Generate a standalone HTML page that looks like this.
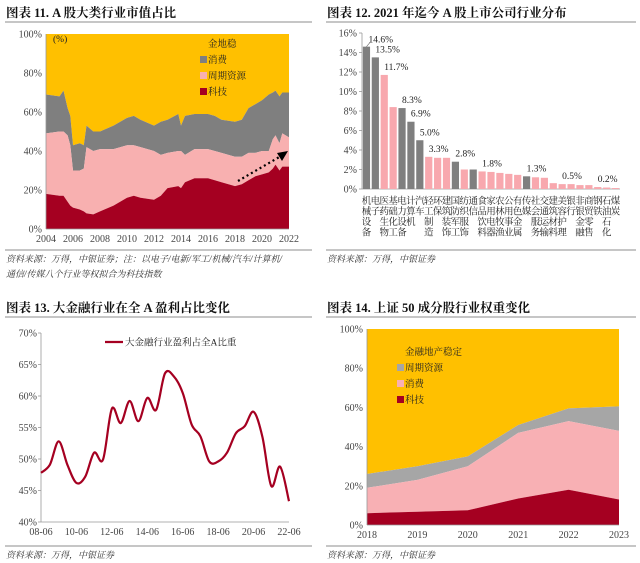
<!DOCTYPE html>
<html><head><meta charset="utf-8"><style>
body{margin:0;background:#fff;}
svg{display:block;font-family:"Liberation Serif","Noto Serif CJK SC",serif;}
.t{font-weight:bold;font-size:12.5px;fill:#111;}
.src{font-style:italic;font-size:9px;fill:#333;}
.tk{font-size:10px;fill:#444;}
.lg{font-size:9.5px;fill:#222;}
</style></head><body>
<svg id="s" width="640" height="563" viewBox="0 0 640 563" xmlns="http://www.w3.org/2000/svg">
<g>
<text class="t" x="6" y="17">图表 11. A 股大类行业市值占比</text>
<line x1="5" y1="22" x2="312" y2="22" stroke="#666" stroke-width="0.8"/>
<line x1="5" y1="250" x2="312" y2="250" stroke="#666" stroke-width="0.8"/>
<text class="src" x="6" y="262">资料来源：万得，中银证券；注：以电子/电新/军工/机械/汽车/计算机/</text>
<text class="src" x="6" y="277">通信/传媒八个行业等权拟合为科技指数</text>
</g>
<g>
<text class="t" x="327" y="17">图表 12. 2021 年迄今 A 股上市公司行业分布</text>
<line x1="326" y1="22" x2="636" y2="22" stroke="#666" stroke-width="0.8"/>
<line x1="326" y1="250" x2="636" y2="250" stroke="#666" stroke-width="0.8"/>
<text class="src" x="327" y="262">资料来源：万得，中银证券</text>
</g>
<g>
<text class="t" x="6" y="312">图表 13. 大金融行业在全 A 盈利占比变化</text>
<line x1="5" y1="317" x2="312" y2="317" stroke="#666" stroke-width="0.8"/>
<line x1="5" y1="546" x2="312" y2="546" stroke="#666" stroke-width="0.8"/>
<text class="src" x="6" y="558">资料来源：万得，中银证券</text>
</g>
<g>
<text class="t" x="327" y="312">图表 14. 上证 50 成分股行业权重变化</text>
<line x1="326" y1="317" x2="636" y2="317" stroke="#666" stroke-width="0.8"/>
<line x1="326" y1="546" x2="636" y2="546" stroke="#666" stroke-width="0.8"/>
<text class="src" x="327" y="558">资料来源：万得，中银证券</text>
</g>
<g id="c11"></g>
<g id="c12"></g>
<g id="c13"></g>
<g id="c14"></g>
</svg>
<script>
// ---- Chart 11 data
const c11Years=[2004,2005,2005.3,2005.6,2005.8,2006,2006.5,2006.8,2007,2007.5,2008,2009,2010,2010.5,2011,2012,2012.5,2013,2013.8,2014,2014.3,2015,2016,2016.5,2017,2018,2018.5,2019,2019.5,2020,2020.5,2020.8,2021,2021.3,2021.5,2022];
const c11Tech=[18,17,17,14,12,11,10,9,8,7.5,9,12,16,17,16,15,17,21,22,21,24,26,26,25,24,22,23,25,27,28,29,31,33,30,32,32];
const c11CycTop=[49,50,50,48,43,30,30,31,42,40,41,41,43,43,42,40,38,39,40,40,38,41,41,40,39,37,37,39,39,40,40,46,48,44,49,47];
const c11ConsTop=[69,68,71,62,58,43,44,43,53,50,50,53,57,58,56,53,55,56,59,53,58,59,59,58,56,55,56,62,64,66,69,70,71,68,70,70];
const c11XTicks=[2004,2006,2008,2010,2012,2014,2016,2018,2020,2022];
const c11YTicks=[0,20,40,60,80,100];
// ---- Chart 12 data
const c12Cats=["机械设备","电子","医药生物","基础化工","电力设备","计算机","汽车","轻工制造","环保","建筑装饰","国防军工","纺织服饰","通信","食品饮料","家用电器","农林牧渔","公用事业","有色金属","传媒","社会服务","交通运输","建筑材料","美容护理","银行","非银金融","商贸零售","钢铁","石油石化","煤炭"];
const c12Vals=[14.6,13.5,11.7,8.4,8.3,6.9,5.0,3.3,3.2,3.2,2.8,2.0,2.0,1.8,1.75,1.65,1.55,1.45,1.3,1.2,1.15,0.6,0.5,0.5,0.4,0.4,0.2,0.15,0.1];
const c12Gray=[1,1,0,0,1,1,1,0,0,0,1,0,1,0,0,0,0,0,1,0,0,0,0,0,0,0,0,0,0];
const c12Labels=["14.6%","13.5%","11.7%","","8.3%","6.9%","5.0%","3.3%","","","2.8%","","","1.8%","","","","","1.3%","","","","0.5%","","","","0.2%","",""];
const c12YTicks=[0,2,4,6,8,10,12,14,16];
// ---- Chart 13 data
const c13T=[];for(let i=0;i<29;i++)c13T.push(2008.5+i*0.5);
const c13Vals=[47.8,49.1,52.8,49,46.2,47.2,51,49.9,58,55.7,59.2,56,59.7,57.8,63.6,63.1,60.5,55.5,53.6,49.6,49.6,51,54.1,55.2,57.5,53.5,45.7,48.8,43.3];
const c13XTicks=["08-06","10-06","12-06","14-06","16-06","18-06","20-06","22-06"];
const c13YTicks=[40,45,50,55,60,65,70];
// ---- Chart 14 data
const c14Years=[2018,2019,2020,2021,2022,2023];
const c14Tech=[6,6.8,7.5,13.5,18,13];
const c14ConsTop=[19,23,30,47,53,48];
const c14CycTop=[26,30,35,51,59.5,60.5];

const NS="http://www.w3.org/2000/svg";
function mk(p,tag,at,txt){const e=document.createElementNS(NS,tag);for(const k in at)e.setAttribute(k,at[k]);if(txt!==undefined)e.textContent=txt;p.appendChild(e);return e;}

// ===== Chart 11
(function(){
const g=document.getElementById('c11');
const X0=46,X1=289,Y0=229,Y1=34;
const x=v=>X0+(v-2004)/(2022-2004)*(X1-X0);
const y=v=>Y0-v/100*(Y0-Y1);
const area=(lo,hi,col,name)=>{let d='';c11Years.forEach((t,i)=>{d+=(i?'L':'M')+x(t).toFixed(1)+','+y(hi[i]).toFixed(1);});for(let i=c11Years.length-1;i>=0;i--)d+='L'+x(c11Years[i]).toFixed(1)+','+y(lo?lo[i]:0).toFixed(1);d+='Z';const p=mk(g,'path',{d:d,fill:col});

};
const full=c11Years.map(()=>100);
area(c11ConsTop,full,'#FFC000','area-finance-property');
area(c11CycTop,c11ConsTop,'#7F7F7F','area-consumer');
area(c11Tech,c11CycTop,'#F8B0B0','area-cyclical');
area(null,c11Tech,'#A50021','area-tech');
mk(g,'line',{x1:X0,y1:Y1,x2:X0,y2:Y0,stroke:'#999','stroke-width':0.8});
mk(g,'line',{x1:X0,y1:Y0,x2:X1,y2:Y0,stroke:'#999','stroke-width':0.8});
c11YTicks.forEach(v=>{const t=mk(g,'text',{class:'tk',x:X0-4,y:y(v)+3.5,'text-anchor':'end'},v+'%');

});
c11XTicks.forEach(v=>{const t=mk(g,'text',{class:'tk',x:x(v),y:Y0+13,'text-anchor':'middle'},v);

});
mk(g,'text',{class:'lg',x:53,y:42},'(%)');
const L=[['金地稳',null,47],['消费','#7F7F7F',63],['周期资源','#F8B0B0',79],['科技','#A50021',95]];
L.forEach(l=>{const e=mk(g,'g',{});


if(l[1])mk(e,'rect',{x:200,y:l[2]-7,width:7,height:7,fill:l[1]});mk(e,'text',{class:'lg',x:208,y:l[2]},l[0]);});
const a=mk(g,'line',{x1:238,y1:181,x2:281,y2:156,stroke:'#000','stroke-width':2.2,'stroke-dasharray':'2,3'});


mk(g,'polygon',{points:'288,151 277,153 282,161',fill:'#000'});
})();

// ===== Chart 12
(function(){
const g=document.getElementById('c12');
const X0=362,X1=620,Y0=189,Y1=33;
const bw=(X1-X0)/c12Cats.length;
const y=v=>Y0-v/16*(Y0-Y1);
mk(g,'line',{x1:X0,y1:Y1,x2:X0,y2:Y0,stroke:'#999','stroke-width':0.8});
mk(g,'line',{x1:X0,y1:Y0,x2:X1,y2:Y0,stroke:'#999','stroke-width':0.8});
c12YTicks.forEach(v=>{mk(g,'line',{x1:X0-3,y1:y(v),x2:X0,y2:y(v),stroke:'#999','stroke-width':0.8});const t=mk(g,'text',{class:'tk',x:X0-5,y:y(v)+3.5,'text-anchor':'end'},v+'%');

});
c12Cats.forEach((c,i)=>{const cx=X0+bw*(i+0.5);
const r=mk(g,'rect',{x:cx-3.6,y:y(c12Vals[i]),width:7.2,height:Y0-y(c12Vals[i]),fill:c12Gray[i]?'#7F7F7F':'#F8A8AE'});


if(c12Labels[i]){const t=mk(g,'text',{class:'lg',x:cx+(i===0?2:0),y:y(c12Vals[i])-(i===0?4:5),'font-size':'8.5'},c12Labels[i]);

}
const lab=mk(g,'text',{class:'lg',x:cx,'text-anchor':'middle','font-size':'9'});


[...c].forEach((ch,k)=>{mk(lab,'tspan',{x:cx,y:204+k*10.5},ch);});});
mk(g,'line',{x1:X0+bw*0.5,y1:y(c12Vals[0]),x2:X0+bw*0.5+5,y2:y(c12Vals[0])-6,stroke:'#666','stroke-width':0.6});
})();

// ===== Chart 13
(function(){
const g=document.getElementById('c13');
const X0=41,X1=289,Y0=522,Y1=333;
const x=t=>X0+(t-2008.5)/14*(X1-X0);
const y=v=>Y0-(v-40)/30*(Y0-Y1);
mk(g,'line',{x1:X0,y1:Y1,x2:X0,y2:Y0,stroke:'#999','stroke-width':0.8});
mk(g,'line',{x1:X0,y1:Y0,x2:X1,y2:Y0,stroke:'#999','stroke-width':0.8});
c13YTicks.forEach(v=>{mk(g,'line',{x1:X0-3,y1:y(v),x2:X0,y2:y(v),stroke:'#999','stroke-width':0.8});const t=mk(g,'text',{class:'tk',x:X0-4,y:y(v)+3.5,'text-anchor':'end'},v+'%');

});
c13XTicks.forEach((s,i)=>{const t=mk(g,'text',{class:'tk',x:x(2008.5+i*2),y:Y0+13,'text-anchor':'middle'},s);

});
const P=c13T.map((t,i)=>[x(t),y(c13Vals[i])]);
let d='M'+P[0][0]+','+P[0][1];
for(let i=0;i<P.length-1;i++){const p0=P[i-1]||P[i],p1=P[i],p2=P[i+1],p3=P[i+2]||P[i+1];
d+='C'+(p1[0]+(p2[0]-p0[0])/6).toFixed(1)+','+(p1[1]+(p2[1]-p0[1])/6).toFixed(1)+' '+(p2[0]-(p3[0]-p1[0])/6).toFixed(1)+','+(p2[1]-(p3[1]-p1[1])/6).toFixed(1)+' '+p2[0].toFixed(1)+','+p2[1].toFixed(1);}
const ln=mk(g,'path',{d:d,fill:'none',stroke:'#A50021','stroke-width':2.2});


const lg=mk(g,'g',{});


mk(lg,'line',{x1:105,y1:342,x2:123,y2:342,stroke:'#A50021','stroke-width':2.2});
mk(lg,'text',{class:'lg',x:125,y:345.5},'大金融行业盈利占全A比重');
})();

// ===== Chart 14
(function(){
const g=document.getElementById('c14');
const X0=367,X1=619,Y0=525,Y1=329;
const x=v=>X0+(v-2018)/5*(X1-X0);
const y=v=>Y0-v/100*(Y0-Y1);
const area=(lo,hi,col,name)=>{let d='';c14Years.forEach((t,i)=>{d+=(i?'L':'M')+x(t).toFixed(1)+','+y(hi[i]).toFixed(1);});for(let i=c14Years.length-1;i>=0;i--)d+='L'+x(c14Years[i]).toFixed(1)+','+y(lo?lo[i]:0).toFixed(1);d+='Z';const p=mk(g,'path',{d:d,fill:col});

};
const full=c14Years.map(()=>100);
area(c14CycTop,full,'#FFC000','area-finance-property');
area(c14ConsTop,c14CycTop,'#A6A6A6','area-cyclical');
area(c14Tech,c14ConsTop,'#F8B0B4','area-consumer');
area(null,c14Tech,'#A50021','area-tech');
mk(g,'line',{x1:X0,y1:Y1,x2:X0,y2:Y0,stroke:'#999','stroke-width':0.8});
mk(g,'line',{x1:X0,y1:Y0,x2:X1,y2:Y0,stroke:'#999','stroke-width':0.8});
[0,20,40,60,80,100].forEach(v=>{const t=mk(g,'text',{class:'tk',x:X0-4,y:y(v)+3.5,'text-anchor':'end'},v+'%');

});
c14Years.forEach(v=>{const t=mk(g,'text',{class:'tk',x:x(v),y:Y0+13,'text-anchor':'middle'},v);

});
const L=[['金融地产稳定',null,355],['周期资源','#A6A6A6',371],['消费','#F8B0B4',387],['科技','#A50021',403]];
L.forEach(l=>{const e=mk(g,'g',{});


if(l[1])mk(e,'rect',{x:397,y:l[2]-7,width:7,height:7,fill:l[1]});mk(e,'text',{class:'lg',x:405,y:l[2]},l[0]);});
})();
</script>
</body></html>
